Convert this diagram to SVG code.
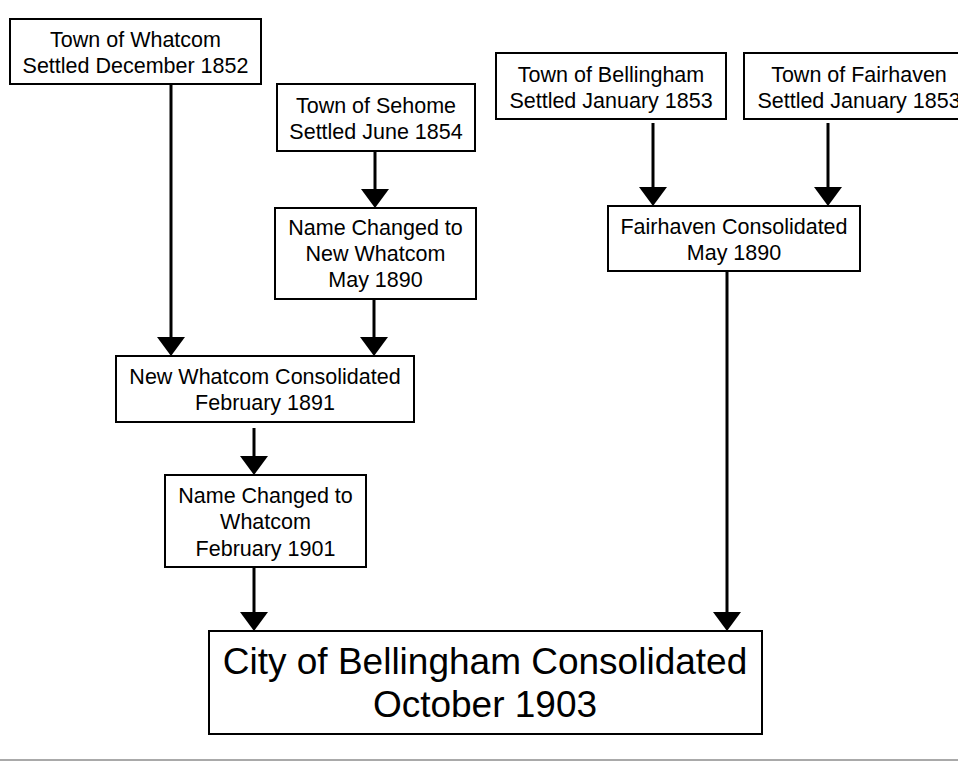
<svg xmlns="http://www.w3.org/2000/svg" width="958" height="761" viewBox="0 0 958 761">
<style>
.box{fill:#fff;stroke:#000;stroke-width:2}
.t{font-family:"Liberation Sans",Arial,sans-serif;font-size:21.5px;fill:#000;text-anchor:middle}
.big{font-size:37px}
.c{stroke:#000;stroke-width:3;fill:none;marker-end:url(#ah)}
</style>
<defs>
<marker id="ah" viewBox="0 0 19 28" refX="0" refY="14" markerWidth="19" markerHeight="28" markerUnits="userSpaceOnUse" orient="auto">
<path d="M0,0 L19,14 L0,28 z" fill="#000"/>
</marker>
</defs>
<rect x="0" y="0" width="958" height="761" fill="#fff"/>
<g id="connectors">
<line class="c" x1="171" y1="85" x2="171" y2="337"/>
<line class="c" x1="375" y1="151" x2="375" y2="189"/>
<line class="c" x1="374" y1="299" x2="374" y2="337"/>
<line class="c" x1="254" y1="428" x2="254" y2="456"/>
<line class="c" x1="254" y1="567" x2="254" y2="612"/>
<line class="c" x1="653" y1="123" x2="653" y2="187"/>
<line class="c" x1="828" y1="123" x2="828" y2="187"/>
<line class="c" x1="727" y1="271" x2="727" y2="612"/>
</g>
<g id="whatcom">
<rect class="box" x="10" y="19" width="251" height="65"/>
<text class="t" x="135.5" y="46.5">Town of Whatcom</text>
<text class="t" x="135.5" y="72.5">Settled December 1852</text>
</g>
<g id="sehome">
<rect class="box" x="277" y="84" width="198" height="67"/>
<text class="t" x="376" y="113">Town of Sehome</text>
<text class="t" x="376" y="139">Settled June 1854</text>
</g>
<g id="bellingham">
<rect class="box" x="496" y="53" width="230" height="66"/>
<text class="t" x="611" y="81.5">Town of Bellingham</text>
<text class="t" x="611" y="107.5">Settled January 1853</text>
</g>
<g id="fairhaven">
<rect class="box" x="744" y="53" width="230" height="66"/>
<text class="t" x="859" y="81.5">Town of Fairhaven</text>
<text class="t" x="859" y="107.5">Settled January 1853</text>
</g>
<g id="new-whatcom-name">
<rect class="box" x="275" y="208" width="201" height="91"/>
<text class="t" x="375.5" y="235">Name Changed to</text>
<text class="t" x="375.5" y="261">New Whatcom</text>
<text class="t" x="375.5" y="287">May 1890</text>
</g>
<g id="fairhaven-consolidated">
<rect class="box" x="608" y="206" width="252" height="65"/>
<text class="t" x="734" y="234">Fairhaven Consolidated</text>
<text class="t" x="734" y="260">May 1890</text>
</g>
<g id="new-whatcom-consolidated">
<rect class="box" x="116" y="356" width="298" height="66"/>
<text class="t" x="265" y="383.5">New Whatcom Consolidated</text>
<text class="t" x="265" y="409.5">February 1891</text>
</g>
<g id="whatcom-name">
<rect class="box" x="165" y="475" width="201" height="92"/>
<text class="t" x="265.5" y="503">Name Changed to</text>
<text class="t" x="265.5" y="529">Whatcom</text>
<text class="t" x="265.5" y="555.5">February 1901</text>
</g>
<g id="city-of-bellingham">
<rect class="box" x="209" y="631" width="553" height="103"/>
<text class="t big" x="485" y="674">City of Bellingham Consolidated</text>
<text class="t big" x="485" y="717">October 1903</text>
</g>
<line x1="0" y1="760" x2="958" y2="760" stroke="#555" stroke-width="1"/>
</svg>
